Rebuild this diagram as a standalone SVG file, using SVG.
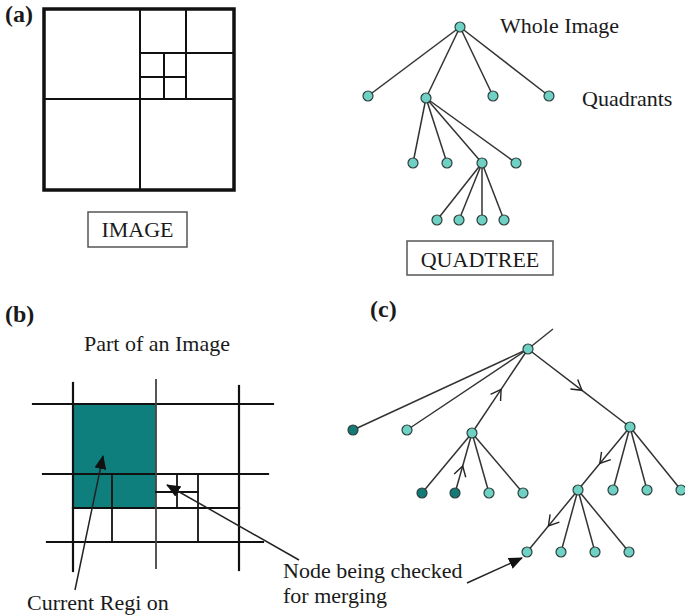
<svg xmlns="http://www.w3.org/2000/svg" width="685" height="615" viewBox="0 0 685 615">
  <style>
    .lbl { font-family: "Liberation Serif", "Times New Roman", serif; font-size: 22px; fill: #1a1a1a; }
    .tag { font-family: "Liberation Serif", "Times New Roman", serif; font-size: 24px; font-weight: bold; fill: #1a1a1a; }
    .node { fill: #6fd1c4; stroke: #2f3f3d; stroke-width: 1.2; }
    .node.dark { fill: #137a76; }
    .edge { stroke: #333; stroke-width: 1.5; fill: none; }
    .grid { stroke: #111; fill: none; stroke-linecap: square; }
    .box { fill: #fff; stroke: #555; stroke-width: 1.5; }
    .pointer { stroke: #222; stroke-width: 1.5; fill: none; marker-end: url(#head); }
    .walk { marker-mid: url(#chev); }
  </style>
  <defs>
    <marker id="head" markerUnits="userSpaceOnUse" markerWidth="14" markerHeight="12" viewBox="0 0 14 12" refX="13" refY="6" orient="auto">
      <path d="M0,0 L14,6 L0,12 z" fill="#111"/>
    </marker>
    <marker id="chev" markerUnits="userSpaceOnUse" markerWidth="14" markerHeight="16" viewBox="-12 -8 14 16" refX="0" refY="0" orient="auto">
      <path d="M-10,-6 L0,0 L-10,6" fill="none" stroke="#222" stroke-width="1.4"/>
    </marker>
  </defs>

  <!-- panel tags -->
  <text class="tag" x="5" y="22">(a)</text>
  <text class="tag" x="5" y="322">(b)</text>
  <text class="tag" x="370" y="317">(c)</text>

  <!-- (a) subdivided image -->
  <g id="image-grid">
    <rect x="44" y="9" width="190" height="181" fill="none" stroke="#111" stroke-width="3.5"/>
    <g class="grid" stroke-width="2">
      <line x1="140" y1="9" x2="140" y2="190"/>
      <line x1="44" y1="99" x2="234" y2="99"/>
      <line x1="186" y1="9" x2="186" y2="99"/>
      <line x1="140" y1="53" x2="234" y2="53"/>
      <line x1="164" y1="53" x2="164" y2="99"/>
      <line x1="140" y1="77" x2="186" y2="77"/>
    </g>
  </g>
  <g id="image-caption">
    <rect class="box" x="88" y="212" width="99" height="35"/>
    <text class="lbl" x="137.5" y="237" text-anchor="middle">IMAGE</text>
  </g>

  <!-- (a) quadtree -->
  <g id="quadtree-edges">
    <line class="edge" x1="460" y1="27" x2="368" y2="96"/>
    <line class="edge" x1="460" y1="27" x2="426" y2="98"/>
    <line class="edge" x1="460" y1="27" x2="493" y2="96"/>
    <line class="edge" x1="460" y1="27" x2="549" y2="96"/>
    <line class="edge" x1="426" y1="98" x2="413" y2="163"/>
    <line class="edge" x1="426" y1="98" x2="447" y2="163"/>
    <line class="edge" x1="426" y1="98" x2="482" y2="163"/>
    <line class="edge" x1="426" y1="98" x2="516" y2="163"/>
    <line class="edge" x1="482" y1="163" x2="437" y2="220"/>
    <line class="edge" x1="482" y1="163" x2="459" y2="220"/>
    <line class="edge" x1="482" y1="163" x2="482" y2="220"/>
    <line class="edge" x1="482" y1="163" x2="504" y2="220"/>
  </g>
  <g id="qt-root"><circle class="node" cx="460" cy="27" r="5"/></g>
  <g id="qt-q1"><circle class="node" cx="368" cy="96" r="5"/></g>
  <g id="qt-q2"><circle class="node" cx="426" cy="98" r="5"/></g>
  <g id="qt-q3"><circle class="node" cx="493" cy="96" r="5"/></g>
  <g id="qt-q4"><circle class="node" cx="549" cy="96" r="5"/></g>
  <g id="qt-q2-1"><circle class="node" cx="413" cy="163" r="5"/></g>
  <g id="qt-q2-2"><circle class="node" cx="447" cy="163" r="5"/></g>
  <g id="qt-q2-3"><circle class="node" cx="482" cy="163" r="5"/></g>
  <g id="qt-q2-4"><circle class="node" cx="516" cy="163" r="5"/></g>
  <g id="qt-q2-3-1"><circle class="node" cx="437" cy="220" r="5"/></g>
  <g id="qt-q2-3-2"><circle class="node" cx="459" cy="220" r="5"/></g>
  <g id="qt-q2-3-3"><circle class="node" cx="482" cy="220" r="5"/></g>
  <g id="qt-q2-3-4"><circle class="node" cx="504" cy="220" r="5"/></g>
  <text class="lbl" x="500" y="33">Whole Image</text>
  <text class="lbl" x="582" y="106">Quadrants</text>
  <g id="quadtree-caption">
    <rect class="box" x="407" y="241" width="146" height="34"/>
    <text class="lbl" x="480" y="267" text-anchor="middle">QUADTREE</text>
  </g>

  <!-- (b) part of an image -->
  <text class="lbl" x="157" y="351" text-anchor="middle">Part of an Image</text>
  <g id="region-grid">
    <rect x="73" y="404" width="83" height="104" fill="#0f7f7d"/>
    <g class="grid" stroke-width="2.2">
      <line x1="33" y1="404" x2="273" y2="404"/>
      <line x1="43" y1="474" x2="268" y2="474"/>
      <line x1="47" y1="542" x2="263" y2="542"/>
      <line x1="73" y1="383" x2="73" y2="571"/>
      <line x1="239" y1="386" x2="239" y2="570"/>
      <line x1="73" y1="508" x2="239" y2="508"/>
    </g>
    <g class="grid" stroke-width="1.8">
      <line x1="156" y1="380" x2="156" y2="568" stroke="#444"/>
      <line x1="112" y1="474" x2="112" y2="542"/>
      <line x1="198" y1="474" x2="198" y2="542"/>
      <line x1="177" y1="474" x2="177" y2="508"/>
      <line x1="156" y1="492" x2="198" y2="492"/>
    </g>
  </g>

  <!-- (c) tree walk -->
  <g id="walk-edges">
    <line class="edge" x1="528" y1="349" x2="553" y2="329"/>
    <line class="edge" x1="528" y1="349" x2="353" y2="430"/>
    <line class="edge" x1="528" y1="349" x2="407" y2="430"/>
    <path class="edge walk" d="M472,433 L501.1,389.3 L528,349"/>
    <path class="edge walk" d="M528,349 L582,390.3 L630,427"/>
    <line class="edge" x1="472" y1="433" x2="422" y2="493"/>
    <path class="edge walk" d="M455,493 L462.7,466 L472,433"/>
    <line class="edge" x1="472" y1="433" x2="489" y2="493"/>
    <line class="edge" x1="472" y1="433" x2="523" y2="493"/>
    <path class="edge walk" d="M630,427 L599.8,463.5 L578,490"/>
    <line class="edge" x1="630" y1="427" x2="613" y2="490"/>
    <line class="edge" x1="630" y1="427" x2="647" y2="490"/>
    <line class="edge" x1="630" y1="427" x2="681" y2="490"/>
    <path class="edge walk" d="M578,490 L548.4,526 L527,552"/>
    <line class="edge" x1="578" y1="490" x2="561" y2="552"/>
    <line class="edge" x1="578" y1="490" x2="595" y2="552"/>
    <line class="edge" x1="578" y1="490" x2="629" y2="552"/>
  </g>
  <g id="w-root"><circle class="node" cx="528" cy="349" r="5"/></g>
  <g id="w-a"><circle class="node dark" cx="353" cy="430" r="5"/></g>
  <g id="w-b"><circle class="node" cx="407" cy="430" r="5"/></g>
  <g id="w-c"><circle class="node" cx="472" cy="433" r="5"/></g>
  <g id="w-d"><circle class="node" cx="630" cy="427" r="5"/></g>
  <g id="w-c1"><circle class="node dark" cx="422" cy="493" r="5"/></g>
  <g id="w-c2"><circle class="node dark" cx="455" cy="493" r="5"/></g>
  <g id="w-c3"><circle class="node" cx="489" cy="493" r="5"/></g>
  <g id="w-c4"><circle class="node" cx="523" cy="493" r="5"/></g>
  <g id="w-e"><circle class="node" cx="578" cy="490" r="5"/></g>
  <g id="w-d2"><circle class="node" cx="613" cy="490" r="5"/></g>
  <g id="w-d3"><circle class="node" cx="647" cy="490" r="5"/></g>
  <g id="w-d4"><circle class="node" cx="681" cy="490" r="5"/></g>
  <g id="w-e1"><circle class="node" cx="527" cy="552" r="5"/></g>
  <g id="w-e2"><circle class="node" cx="561" cy="552" r="5"/></g>
  <g id="w-e3"><circle class="node" cx="595" cy="552" r="5"/></g>
  <g id="w-e4"><circle class="node" cx="629" cy="552" r="5"/></g>

  <!-- callouts -->
  <g id="callout-arrows">
    <line class="pointer" x1="75" y1="590" x2="103" y2="456"/>
    <line class="pointer" x1="299" y1="560" x2="167" y2="485"/>
    <line class="pointer" x1="467" y1="583" x2="522" y2="558"/>
  </g>
  <text class="lbl" x="27" y="610">Current Regi on</text>
  <text class="lbl" x="283" y="578">Node being checked</text>
  <text class="lbl" x="283" y="603">for merging</text>
</svg>
